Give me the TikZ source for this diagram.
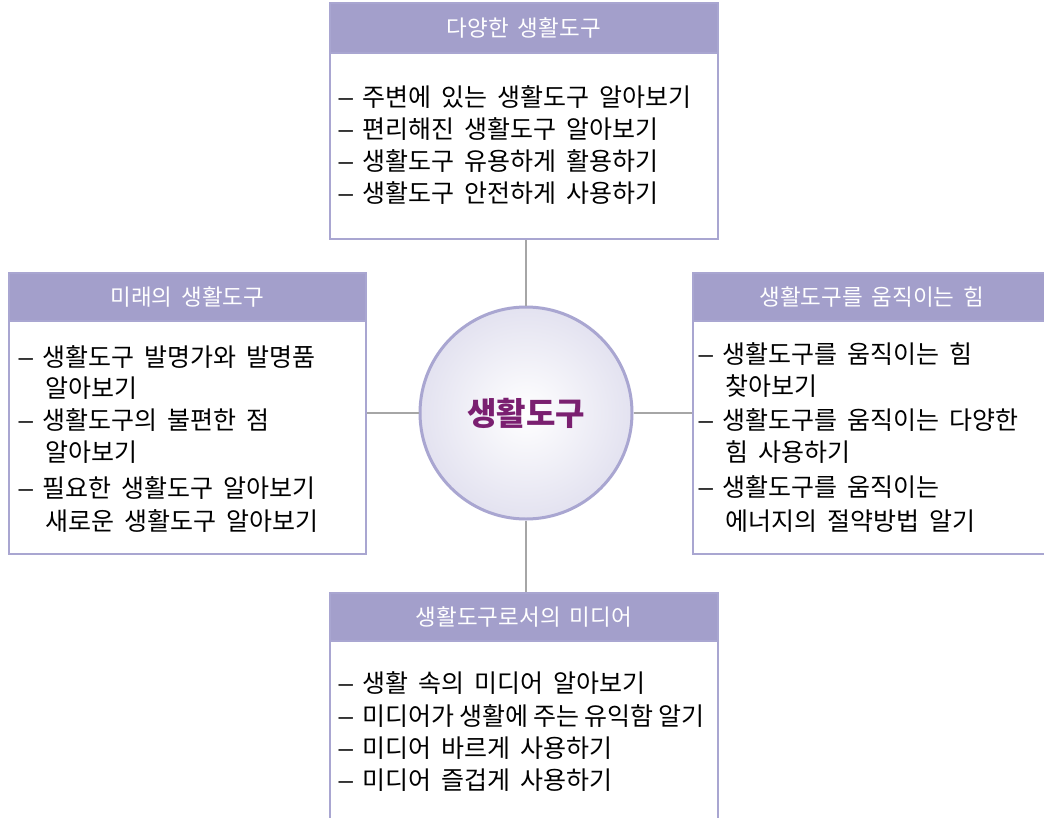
\documentclass[tikz,border=0pt]{standalone}
\usepackage{fontspec}
\setmainfont{Noto Sans CJK KR}
\newfontfamily\kr{Noto Sans CJK KR}
\newcommand\hdrfont{\kr\fontsize{22.5}{26}\selectfont\spaceskip=9pt\relax}
\newcommand\bodyfont{\kr\fontsize{25}{29}\selectfont\spaceskip=10pt\relax}
\newcommand\cenfont{\kr\fontsize{32}{36}\selectfont\bfseries}
\newcommand\itemdash{\scalebox{1.3}[1]{–}\hspace{8pt}}
\definecolor{lav}{HTML}{A39FCB}
\definecolor{lavline}{HTML}{A9A6D1}
\definecolor{lavlight}{HTML}{E3E2F0}
\definecolor{conn}{HTML}{A6A6A6}
\definecolor{centxt}{HTML}{7A1F70}
\tikzset{
  boxframe/.style={draw=lavline, line width=1.6pt, fill=white, rectangle, inner sep=0, anchor=north west},
  hdr/.style={fill=lav, draw=lavline, line width=1.6pt, rectangle, inner sep=0, anchor=north west, text=white,
    font=\hdrfont},
  bodyline/.style={anchor=base west, inner sep=0, text=black, font=\bodyfont},
  conline/.style={draw=conn, line width=2.6pt},
}
\begin{document}
\begin{tikzpicture}[x=1pt,y=-1pt]
\clip (0,0) rectangle (1044,817);
\fill[white] (0,0) rectangle (1044,817);
% boxes
\node[boxframe, minimum width=388pt, minimum height=236pt] (top) at (329,2) {};
\node[hdr, minimum width=388pt, minimum height=50pt] (toph) at (top.north west) {다양한 생활도구};
\node[boxframe, minimum width=357pt, minimum height=281pt] (left) at (8,272) {};
\node[hdr, minimum width=357pt, minimum height=48pt] (lefth) at (left.north west) {미래의 생활도구};
\node[boxframe, minimum width=358pt, minimum height=281pt] (right) at (692,272) {};
\node[hdr, minimum width=358pt, minimum height=48pt] (righth) at (right.north west) {생활도구를 움직이는 힘};
\node[boxframe, minimum width=388pt, minimum height=240pt] (bot) at (329,592) {};
\node[hdr, minimum width=388pt, minimum height=48pt] (both) at (bot.north west) {생활도구로서의 미디어};
% center circle
\node[circle, minimum size=212pt, draw=lavline, line width=3pt, inner color=white, outer color=lavlight,
  text=centxt, font=\cenfont] (c) at (526,413) {생활도구};
% connectors
\draw[conline] (c.north) -- (c.north |- top.south);
\draw[conline] (c.south) -- (c.south |- bot.north);
\draw[conline] (c.west) -- (c.west -| left.east);
\draw[conline] (c.east) -- (c.east -| right.west);
% top box text
\node[bodyline] (t1) at (337,106.5) {\itemdash 주변에 있는 생활도구 알아보기};
\node[bodyline] (t2) at (337,138.5) {\itemdash 편리해진 생활도구 알아보기};
\node[bodyline] (t3) at (337,170.5) {\itemdash 생활도구 유용하게 활용하기};
\node[bodyline] (t4) at (337,202.5) {\itemdash 생활도구 안전하게 사용하기};
% left box text
\node[bodyline] (l1) at (17,366.5) {\itemdash 생활도구 발명가와 발명품};
\node[bodyline] (l2) at (45,397.5) {알아보기};
\node[bodyline] (l3) at (17,429.5) {\itemdash 생활도구의 불편한 점};
\node[bodyline] (l4) at (45,461.5) {알아보기};
\node[bodyline] (l5) at (17,497.5) {\itemdash 필요한 생활도구 알아보기};
\node[bodyline] (l6) at (45,530.5) {새로운 생활도구 알아보기};
% right box text
\node[bodyline] (r1) at (697,363.5) {\itemdash 생활도구를 움직이는 힘};
\node[bodyline] (r2) at (725,395.5) {찾아보기};
\node[bodyline] (r3) at (697,429.5) {\itemdash 생활도구를 움직이는 다양한};
\node[bodyline] (r4) at (725,461.5) {힘 사용하기};
\node[bodyline] (r5) at (697,496.5) {\itemdash 생활도구를 움직이는};
\node[bodyline] (r6) at (725,530.5) {에너지의 절약방법 알기};
% bottom box text
\node[bodyline] (b1) at (337,692.5) {\itemdash 생활 속의 미디어 알아보기};
\node[bodyline] (b2) at (337,725.5) {\itemdash \spaceskip=5pt\relax 미디어가 생활에 주는 유익함 알기};
\node[bodyline] (b3) at (337,757.5) {\itemdash 미디어 바르게 사용하기};
\node[bodyline] (b4) at (337,789.5) {\itemdash 미디어 즐겁게 사용하기};
\end{tikzpicture}
\end{document}
